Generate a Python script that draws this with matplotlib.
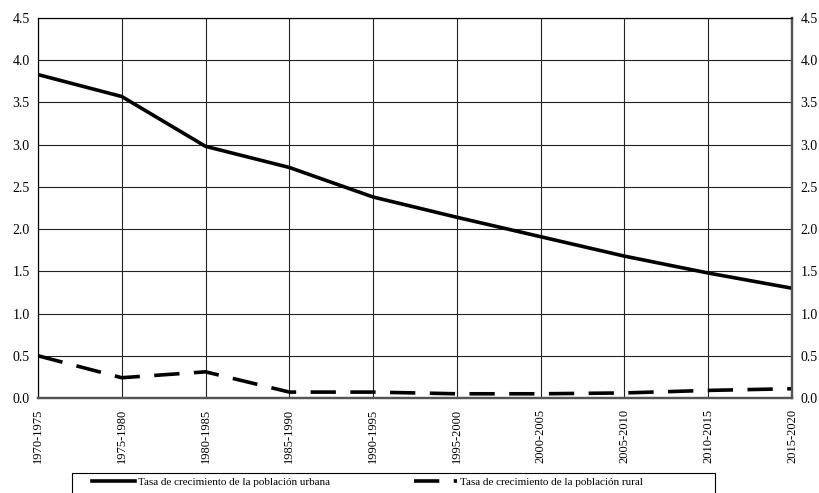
import matplotlib
matplotlib.use("Agg")
import matplotlib.pyplot as plt
from matplotlib.patches import Rectangle

plt.rcParams['font.family'] = ['Liberation Serif', 'DejaVu Serif']

periods = ['1970-1975', '1975-1980', '1980-1985', '1985-1990', '1990-1995',
           '1995-2000', '2000-2005', '2005-2010', '2010-2015', '2015-2020']
urbana = [3.83, 3.57, 2.98, 2.73, 2.38, 2.14, 1.91, 1.68, 1.48, 1.30]
rural = [0.50, 0.24, 0.31, 0.07, 0.07, 0.05, 0.05, 0.06, 0.09, 0.11]
y_ticks = [0.0, 0.5, 1.0, 1.5, 2.0, 2.5, 3.0, 3.5, 4.0, 4.5]

W, H = 820, 493
fig = plt.figure(figsize=(W / 100, H / 100), dpi=100)
ax = fig.add_axes([38 / W, 1 - 398 / H, (792 - 38) / W, (398 - 18) / H])

x = list(range(len(periods)))
ax.plot(x, urbana, color='black', lw=2.6, solid_joinstyle='round',
        label='Tasa de crecimiento de la población urbana', zorder=3)
ax.plot(x, rural, color='black', lw=2.6, dashes=(7, 4), dash_capstyle='butt',
        label='Tasa de crecimiento de la población rural', zorder=3)

ax.set_xlim(0, len(periods) - 1)
ax.set_ylim(0, 4.5)
ax.set_xticks(x)
ax.set_xticklabels(periods, rotation=90, fontsize=9)
ax.set_yticks(y_ticks)
ax.set_yticklabels([f'{v:.1f}' for v in y_ticks], fontsize=10)
ax.tick_params(axis='x', length=0, pad=8)
ax.tick_params(axis='y', length=0, pad=6)

# right axis mirrors the left one
ax2 = ax.twinx()
ax2.set_ylim(0, 4.5)
ax2.set_yticks(y_ticks)
ax2.set_yticklabels([f'{v:.1f}' for v in y_ticks], fontsize=10)
ax2.tick_params(axis='y', length=0, pad=6)

ax.grid(True, color='#222222', lw=0.8)
ax.set_axisbelow(True)
for a in (ax, ax2):
    a.spines['top'].set_color('black')
    a.spines['top'].set_linewidth(0.8)
    a.spines['left'].set_color('black')
    a.spines['left'].set_linewidth(0.8)
    a.spines['bottom'].set_color('#555555')
    a.spines['bottom'].set_linewidth(1.6)
    a.spines['right'].set_color('#555555')
    a.spines['right'].set_linewidth(1.6)

# legend box runs off the bottom of the image, as in the source
fig.patches.append(Rectangle((72 / W, -10 / H), (715 - 72) / W, 30 / H,
                             transform=fig.transFigure, fill=False,
                             edgecolor='black', lw=0.8))
fig.legend(loc='upper left', bbox_to_anchor=(92 / W, 1 - 477 / H), ncol=2,
           frameon=False, borderaxespad=0, borderpad=0, fontsize=8,
           handlelength=3.9, handletextpad=0.2, columnspacing=7.6)

fig.savefig('out.png', dpi=100)
